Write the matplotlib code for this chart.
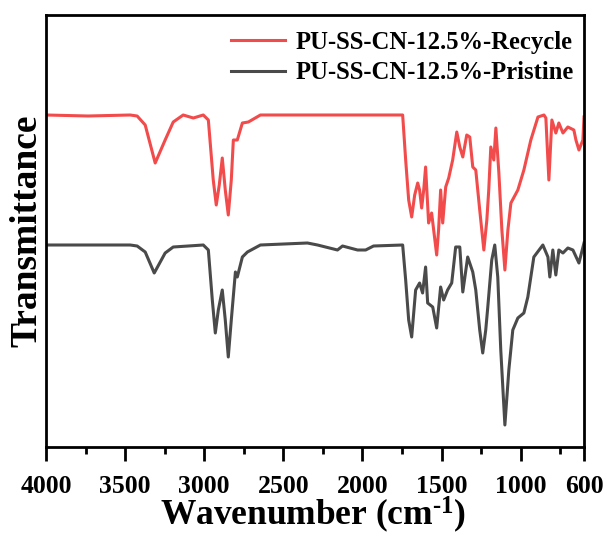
import matplotlib
matplotlib.use("Agg")
import matplotlib.pyplot as plt
from matplotlib.ticker import FixedLocator
from matplotlib.mathtext import MathTextParser

plt.rcParams['font.family'] = ['Liberation Serif', 'DejaVu Serif']
plt.rcParams['font.weight'] = 'bold'
plt.rcParams['mathtext.fontset'] = 'custom'
plt.rcParams['mathtext.rm'] = 'Liberation Serif:bold'
plt.rcParams['mathtext.bf'] = 'Liberation Serif:bold'
plt.rcParams['mathtext.it'] = 'Liberation Serif:bold'

# Recycle spectrum (wavenumber, transmittance a.u.)
recycle_wn = [4000, 3734, 3468, 3424, 3373, 3310, 3247, 3196, 3133, 3069, 3006, 2974, 2943,
              2924, 2905, 2886, 2867, 2848, 2829, 2816, 2791, 2759, 2721, 2645, 1746, 1727,
              1708, 1689, 1670, 1651, 1639, 1626, 1613, 1601, 1582, 1563, 1550, 1531, 1519,
              1506, 1493, 1474, 1455, 1430, 1404, 1385, 1366, 1341, 1322, 1303, 1284, 1259,
              1233, 1214, 1202, 1189, 1170, 1157, 1138, 1119, 1100, 1081, 1062, 1018, 980,
              936, 891, 853, 841, 822, 803, 778, 759, 733, 702, 664, 651, 632, 607, 600]
recycle_t = [334, 333, 334, 333, 324, 286, 309, 327, 334, 331, 334, 329, 269,
             244, 264, 291, 259, 234, 269, 309, 309, 326, 327, 334, 334, 289,
             249, 232, 254, 266, 259, 241, 259, 282, 226, 236, 219, 194, 219,
             259, 226, 262, 271, 289, 317, 302, 292, 314, 312, 282, 279, 239,
             199, 229, 259, 302, 289, 321, 276, 219, 179, 219, 246, 259, 279,
             309, 332, 334, 331, 269, 329, 316, 326, 316, 322, 319, 309, 299, 309, 332]

# Pristine spectrum
pristine_wn = [4000, 3468, 3424, 3373, 3316, 3278, 3247, 3196, 3006, 2974, 2949, 2930, 2911,
               2886, 2867, 2848, 2829, 2803, 2791, 2759, 2727, 2645, 2348, 2284, 2158, 2126,
               2031, 1980, 1930, 1746, 1727, 1708, 1689, 1664, 1639, 1620, 1601, 1588, 1556,
               1531, 1506, 1487, 1462, 1436, 1411, 1385, 1366, 1335, 1303, 1284, 1259, 1240,
               1221, 1208, 1183, 1164, 1145, 1126, 1100, 1075, 1050, 1018, 980, 955, 917,
               860, 828, 816, 797, 778, 759, 733, 702, 670, 632, 600]
pristine_t = [204, 204, 203, 197, 176, 187, 196, 202, 204, 199, 149, 116, 139,
              159, 129, 92, 129, 177, 172, 192, 197, 204, 206, 204, 199, 203,
              199, 199, 203, 204, 169, 129, 112, 159, 166, 156, 182, 146, 142,
              121, 162, 149, 159, 166, 202, 202, 157, 192, 177, 159, 119, 96,
              119, 142, 189, 204, 172, 99, 24, 79, 119, 131, 136, 152, 192,
              204, 192, 172, 199, 174, 199, 196, 201, 199, 186, 206]

labels = ['PU-SS-CN-12.5%-Recycle', 'PU-SS-CN-12.5%-Pristine']
colors = ['#f24b4b', '#4a4a4a']
xticks = [4000, 3500, 3000, 2500, 2000, 1500, 1000, 600]
minor_ticks = [3750, 3250, 2750, 2250, 1750, 1250, 750]

W, H = 607, 536
fig = plt.figure(figsize=(W/100, H/100), dpi=100)
ax = fig.add_axes([46/W, 1-447/H, (584-46)/W, (447-15)/H])

ax.plot(recycle_wn, recycle_t, color=colors[0], lw=2.2, label=labels[0], solid_joinstyle='round')
ax.plot(pristine_wn, pristine_t, color=colors[1], lw=2.2, label=labels[1], solid_joinstyle='round')

ax.set_xlim(4000, 600)
ax.set_ylim(2, 434)
ax.set_xticks(xticks)
ax.set_xticklabels([str(v) for v in xticks])
ax.xaxis.set_minor_locator(FixedLocator(minor_ticks))
ax.set_yticks([])
ax.tick_params(axis='x', which='major', direction='out', length=10, width=2, labelsize=18.5, pad=10)
ax.tick_params(axis='x', which='minor', direction='out', length=5, width=2)
for lab in ax.get_xticklabels():
    lab.set_fontweight('bold')
for s in ax.spines.values():
    s.set_linewidth(2)

xlab = r'Wavenumber (cm$^{\text{-}1}$)'
try:
    MathTextParser('agg').parse(xlab, dpi=100)
except Exception:
    xlab = 'Wavenumber (cm\u207b\u00b9)'
fig.text(313/W, 1-525/H, xlab, fontsize=25.5, fontweight='bold', ha='center', va='baseline')
fig.text(27/W, 1-231/H, 'Transmittance', fontsize=27, fontweight='bold', rotation=90,
         ha='center', va='center')

leg = ax.legend(loc='upper right', frameon=False, fontsize=17.7, handlelength=2.2,
                handletextpad=0.45, labelspacing=0.3, borderaxespad=0.0,
                bbox_to_anchor=(1.0, 1.0 - 6/432))
for t in leg.get_texts():
    t.set_fontweight('bold')

fig.savefig('out.png', dpi=100)
